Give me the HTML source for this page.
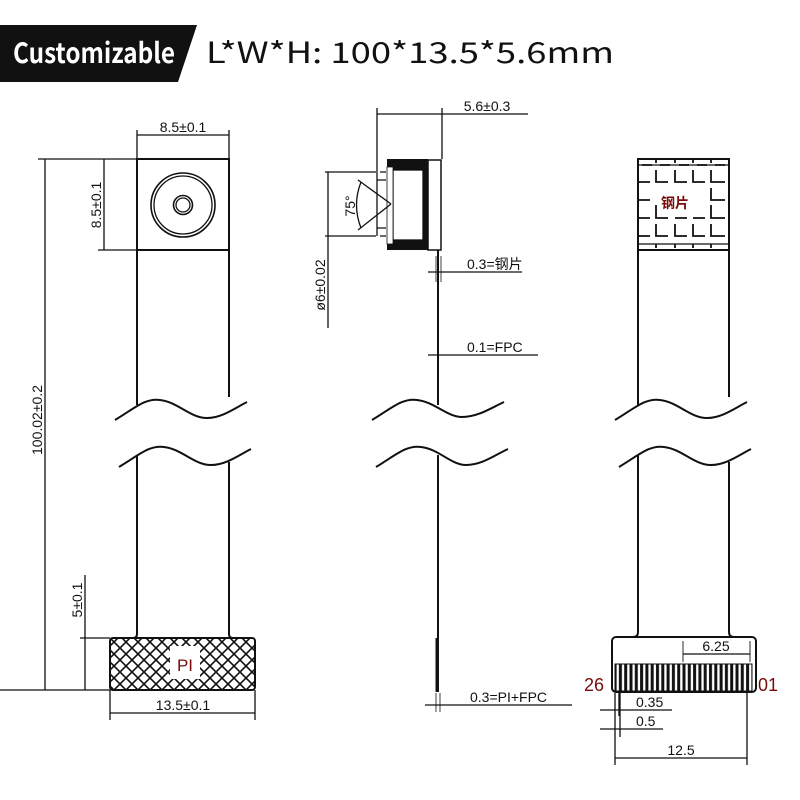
<!DOCTYPE html>
<html><head><meta charset="utf-8"><style>
html,body{margin:0;padding:0;background:#fff;}
svg{display:block;}
text{font-family:"Liberation Sans","Noto Sans CJK SC",sans-serif;}
</style></head><body>
<svg width="800" height="800" viewBox="0 0 800 800" xmlns="http://www.w3.org/2000/svg">
<defs>
<pattern id="hatch" width="12" height="12" patternUnits="userSpaceOnUse">
<path d="M-3,3 L3,-3 M0,12 L12,0 M9,15 L15,9 M-3,9 L3,15 M0,0 L12,12 M9,-3 L15,3" stroke="#111" stroke-width="1.6"/>
</pattern>
<pattern id="pins" width="5.3" height="40" patternUnits="userSpaceOnUse" x="615">
<rect width="5.3" height="40" fill="#111"/><rect x="1.6" width="2.3" height="40" fill="#fff"/>
</pattern>
</defs>

<!-- header -->
<polygon points="0,25 197,25 178,82 0,82" fill="#111"/>
<text x="13" y="63" font-size="28" font-weight="bold" fill="#fff" style="font-family:'Noto Sans CJK SC',sans-serif" textLength="162" lengthAdjust="spacingAndGlyphs">Customizable</text>
<text x="206" y="63" font-size="29" fill="#111" style="font-family:'Noto Sans CJK SC',sans-serif" textLength="408" lengthAdjust="spacingAndGlyphs">L*W*H:  100*13.5*5.6mm</text>

<g stroke="#111" fill="none" stroke-width="1.3">
<!-- LEFT VIEW -->
<rect x="137" y="159" width="92" height="91" stroke-width="2"/>
<circle cx="183" cy="205" r="32" stroke-width="1.6"/>
<circle cx="183" cy="205" r="29"/>
<circle cx="183" cy="205" r="9.5" stroke-width="1.6"/>
<circle cx="183" cy="205" r="7"/>
<line x1="137" y1="250" x2="137" y2="405" stroke-width="2"/>
<line x1="229" y1="250" x2="229" y2="397" stroke-width="2"/>
<path d="M115,420 C135,408 145,398 160,400 C178,402 190,418 207,418 C222,418 235,408 247,402" stroke-width="2"/>
<path d="M119,467 C139,455 149,445 164,447 C182,449 194,465 211,465 C226,465 239,455 251,449" stroke-width="2"/>
<line x1="137" y1="455" x2="137" y2="634" stroke-width="2"/>
<line x1="229" y1="462" x2="229" y2="634" stroke-width="2"/>
<path d="M137,634 Q137,638 133,638 M229,634 Q229,638 233,638" stroke-width="2"/>
<rect x="110" y="638" width="145" height="52" rx="3" fill="url(#hatch)" stroke-width="2"/>
<rect x="170" y="646" width="30" height="33" fill="#fff" stroke="none"/>
<!-- left dims -->
<line x1="137" y1="130" x2="137" y2="159"/><line x1="229" y1="130" x2="229" y2="159"/>
<line x1="137" y1="135" x2="229" y2="135"/>
<line x1="38" y1="159" x2="137" y2="159"/>
<line x1="98" y1="250" x2="137" y2="250"/>
<line x1="104" y1="159" x2="104" y2="250"/>
<line x1="45" y1="159" x2="45" y2="690"/>
<line x1="0" y1="690" x2="110" y2="690"/>
<line x1="80" y1="638" x2="110" y2="638"/>
<line x1="85" y1="575" x2="85" y2="690"/>
<line x1="110" y1="690" x2="110" y2="720"/><line x1="255" y1="690" x2="255" y2="720"/>
<line x1="110" y1="713" x2="255" y2="713"/>

<!-- MIDDLE VIEW -->
<line x1="377" y1="108" x2="377" y2="172"/>
<line x1="442" y1="108" x2="442" y2="159"/>
<line x1="377" y1="114" x2="528" y2="114"/>
<rect x="387" y="159" width="41" height="91" fill="#111" stroke="none"/>
<rect x="393" y="170" width="30" height="70" fill="#fff" stroke="#111"/>
<rect x="387" y="167" width="6" height="77" fill="#fff" stroke="#111" stroke-width="0.8"/>
<rect x="428" y="160" width="13" height="90" fill="#fff" stroke-width="1.5"/>
<path d="M377,172 L377,236 M377,180 L386,180 M377,228 L386,228 M380,172 L386,172 M380,236 L386,236" />
<line x1="391" y1="204" x2="358" y2="180"/>
<line x1="391" y1="204" x2="358" y2="230"/>
<path d="M361,182 Q352,205 361,228"/>
<line x1="325" y1="172" x2="376" y2="172"/>
<line x1="325" y1="236" x2="376" y2="236"/>
<line x1="328" y1="172" x2="328" y2="328"/>
<path d="M438,250 L438,405" stroke-width="2"/>
<line x1="436" y1="256" x2="436" y2="282" stroke-width="0.8"/>
<line x1="441" y1="256" x2="441" y2="282" stroke-width="0.8"/>
<line x1="428" y1="272" x2="522" y2="272"/>
<line x1="428" y1="355" x2="538" y2="355"/>
<path d="M372,420 C392,408 402,398 417,400 C435,402 447,417 462,417 C478,417 491,408 504,402" stroke-width="2"/>
<path d="M376,467 C396,455 406,445 421,447 C439,449 451,465 466,465 C482,465 495,455 508,449" stroke-width="2"/>
<path d="M438,455 L438,692" stroke-width="2"/>
<rect x="435.5" y="638" width="3.5" height="54" fill="#111" stroke="none"/>
<line x1="436" y1="693" x2="436" y2="712" stroke-width="0.8"/>
<line x1="440" y1="693" x2="440" y2="712" stroke-width="0.8"/>
<line x1="425" y1="705" x2="572" y2="705"/>

<!-- RIGHT VIEW -->
<rect x="638" y="159" width="91" height="91" stroke-width="2"/>
<line x1="638" y1="165" x2="729" y2="165"/>
<line x1="638" y1="244" x2="729" y2="244"/>
<path stroke-width="1.8" d="
M656,159 v4 M675,159 v4 M693,159 v4 M711,159 v4
M656,244 v4 M675,244 v4 M693,244 v4 M711,244 v4
M642,165 h10 M660,165 h10 M679,165 h10 M697,165 h10 M715,165 h10
M656,170 v12 h12 M675,170 v12 h12 M693,170 v12 h12 M711,170 v12 h14
M638,182 h12 M638,200 h12 M638,218 h12 M638,236 h12
M711,188 v12 h14 M711,205 v13 h14
M656,205 v13 h12 M675,218 h12 M693,218 h12
M656,224 v12 h12 M675,224 v12 h12 M693,224 v12 h12 M711,224 v12 h14"/>
<line x1="638" y1="250" x2="638" y2="405" stroke-width="2"/>
<line x1="729" y1="250" x2="729" y2="397" stroke-width="2"/>
<path d="M615,420 C635,408 645,398 660,400 C678,402 690,418 707,418 C722,418 735,408 747,402" stroke-width="2"/>
<path d="M619,467 C639,455 649,445 664,447 C682,449 694,465 711,465 C726,465 739,455 751,449" stroke-width="2"/>
<line x1="638" y1="455" x2="638" y2="632" stroke-width="2"/>
<line x1="729" y1="462" x2="729" y2="632" stroke-width="2"/>
<path d="M638,632 Q638,637 633,637 M729,632 Q729,637 734,637" stroke-width="2"/>
<rect x="612" y="637" width="144" height="55" rx="4" stroke-width="2"/>
<rect x="615" y="664" width="137" height="27" fill="url(#pins)" stroke-width="1"/>
<line x1="683" y1="641" x2="683" y2="662" stroke-width="0.9"/>
<line x1="750" y1="641" x2="750" y2="662" stroke-width="0.9"/>
<line x1="683" y1="654" x2="750" y2="654"/>
<line x1="615" y1="693" x2="615" y2="765"/>
<line x1="747" y1="693" x2="747" y2="765"/>
<line x1="619" y1="693" x2="619" y2="716"/>
<line x1="620" y1="693" x2="620" y2="737"/>
<line x1="600" y1="710" x2="672" y2="710"/>
<line x1="600" y1="729" x2="663" y2="729"/>
<line x1="615" y1="758" x2="747" y2="758"/>
</g>

<!-- labels -->
<g fill="#111" font-size="14">
<text x="183" y="132" text-anchor="middle">8.5±0.1</text>
<text transform="translate(101,205) rotate(-90)" text-anchor="middle">8.5±0.1</text>
<text transform="translate(42,420) rotate(-90)" text-anchor="middle">100.02±0.2</text>
<text transform="translate(82,600) rotate(-90)" text-anchor="middle">5±0.1</text>
<text x="183" y="710" text-anchor="middle">13.5±0.1</text>
<text x="487" y="111" text-anchor="middle">5.6±0.3</text>
<text transform="translate(355,206) rotate(-90)" text-anchor="middle">75°</text>
<text transform="translate(325,285) rotate(-90)" text-anchor="middle">ø6±0.02</text>
<text x="467" y="269">0.3=钢片</text>
<text x="467" y="352">0.1=FPC</text>
<text x="470" y="702">0.3=PI+FPC</text>
<text x="716" y="651" text-anchor="middle">6.25</text>
<text x="636" y="707">0.35</text>
<text x="636" y="726">0.5</text>
<text x="681" y="755" text-anchor="middle">12.5</text>
</g>
<text x="185" y="671" font-size="17" fill="#7a0c0c" text-anchor="middle">PI</text>
<text x="675" y="208" font-size="14" font-weight="bold" fill="#7a0c0c" text-anchor="middle">钢片</text>
<text x="584" y="691" font-size="18" fill="#7a0c0c">26</text>
<text x="758" y="691" font-size="18" fill="#7a0c0c">01</text>
</svg>
</body></html>
